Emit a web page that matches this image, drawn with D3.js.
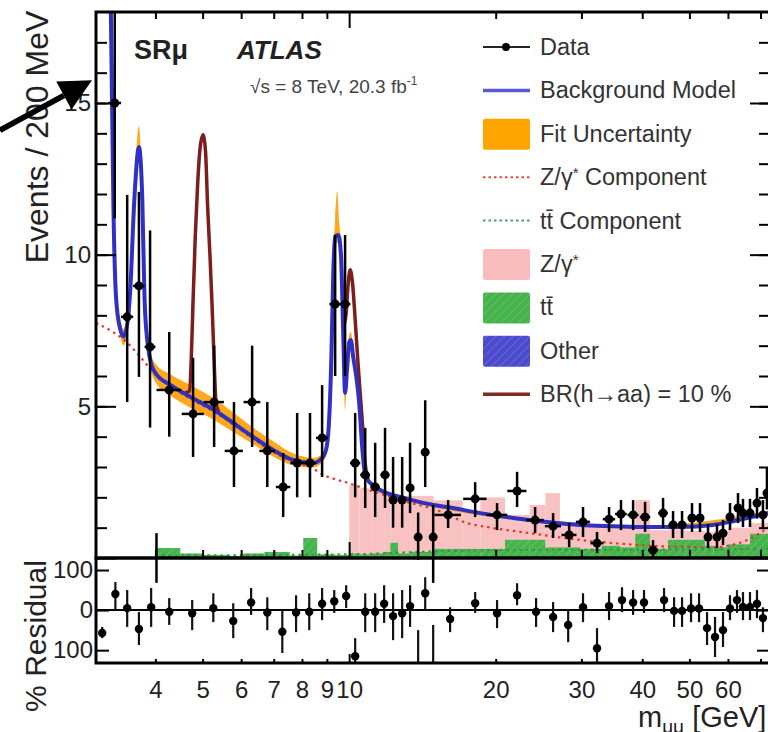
<!DOCTYPE html>
<html>
<head>
<meta charset="utf-8">
<script src="https://cdn.jsdelivr.net/npm/d3@7"></script>
<style>
  body { margin: 0; background: #fff; }
  svg { display: block; font-family: "Liberation Sans", Arial, Helvetica, sans-serif; }
</style>
</head>
<body>
<div id="chart"></div>
<script>
// ---- data (mass in GeV, events per 200 MeV) ----
const dataMass = [3.30, 3.50, 3.70, 3.90, 4.02, 4.27, 4.78, 5.28, 5.80, 6.32, 6.79, 7.32, 7.82, 8.31, 8.80, 9.36, 9.81, 10.29, 10.79, 11.31, 11.85, 12.31, 12.85, 13.34, 13.86, 14.33, 14.88, 15.97, 18.15, 20.13, 22.13, 24.10, 26.24, 28.31, 30.23, 32.30, 34.19, 36.18, 38.31, 40.54, 42.09, 44.14, 46.28, 48.29, 50.62, 52.57, 54.60, 56.97, 58.61, 60.58, 62.92, 64.42, 66.59, 68.83, 70.80, 72.15];
const dataEvents = [15.0, 7.95, 8.97, 6.96, 0, 5.54, 4.75, 5.14, 3.53, 5.14, 3.53, 2.34, 3.13, 3.13, 3.96, 8.37, 8.37, 3.13, 2.74, 2.34, 2.74, 1.91, 1.91, 2.31, 0.69, 3.49, 0.69, 1.42, 1.95, 1.42, 2.21, 1.25, 1.05, 0.76, 1.19, 0.49, 1.28, 1.45, 1.42, 1.35, 0.26, 1.48, 1.09, 1.09, 1.32, 1.32, 0.69, 0.69, 0.82, 1.35, 1.65, 1.48, 1.48, 1.81, 1.42, 2.14];
const dataLow = [11.2, 5.14, 5.97, 4.3, -0.82, 4.0, 3.33, 3.66, 2.34, 3.66, 2.34, 1.35, 2.0, 2.0, 2.67, 6.0, 6.0, 2.0, 1.65, 1.35, 1.65, 1.0, 1.0, 1.48, -0.06, 2.34, -0.82, 0.99, 1.35, 0.92, 1.68, 0.82, 0.66, 0.36, 0.69, 0.16, 0.86, 0.92, 0.92, 0.86, 0.0, 0.99, 0.66, 0.66, 0.86, 0.86, 0.33, 0.33, 0.43, 0.92, 1.15, 1.02, 1.02, 1.3, 0.99, 1.6];
const dataHigh = [19, 11.97, 12.07, 10.8, 0.82, 7.45, 6.6, 7.0, 5.14, 7.0, 5.14, 3.46, 4.78, 4.78, 5.7, 10.65, 10.65, 4.78, 4.29, 3.8, 4.29, 3.33, 3.33, 3.8, 1.5, 5.2, 1.75, 1.91, 2.5, 1.81, 2.84, 1.68, 1.48, 1.15, 1.68, 0.86, 1.68, 1.91, 1.91, 1.85, 0.59, 1.98, 1.55, 1.55, 1.81, 1.81, 1.12, 1.12, 1.25, 1.81, 2.14, 1.95, 1.95, 2.31, 1.91, 3.0];
// bin half widths: [from, to, half width]
const binRanges = [[0, 4, 0.1], [4, 15, 0.25], [15, 100, 1.0]];

// background model curve and its fit uncertainty band
const bkgMass = [3.12, 3.18, 3.24, 3.28, 3.32, 3.38, 3.44, 3.50, 3.55, 3.62, 3.70, 3.76, 3.80, 3.86, 3.92, 4.00, 4.30, 4.72, 5.28, 5.78, 6.35, 6.98, 7.67, 8.43, 8.84, 9.00, 9.10, 9.20, 9.28, 9.36, 9.50, 9.62, 9.72, 9.81, 9.90, 10.0, 10.08, 10.2, 10.36, 10.5, 10.62, 10.75, 10.9, 11.2, 11.58, 12.73, 13.53, 14.88, 15.89, 18.58, 21.72, 25.5, 29.8, 34.85, 40.9, 47.8, 55.9, 60.6, 65.7, 72.5, 73.2];
const bkgEvents = [40, 24, 18, 11.5, 8.6, 7.6, 7.3, 7.7, 8.8, 11.8, 13.55, 11.8, 8.5, 7.0, 6.4, 6.1, 5.7, 5.31, 4.88, 4.45, 3.99, 3.56, 3.23, 3.13, 3.33, 3.7, 4.6, 6.8, 9.5, 10.6, 10.65, 10.0, 7.5, 5.44, 6.2, 7.1, 7.19, 6.6, 5.9, 5.0, 3.8, 2.9, 2.6, 2.4, 2.24, 2.01, 1.9, 1.75, 1.68, 1.48, 1.32, 1.19, 1.09, 1.05, 1.02, 1.02, 1.09, 1.19, 1.32, 1.48, 1.5];
const bandMass = [3.38, 3.44, 3.50, 3.62, 3.70, 3.76, 3.86, 3.92, 4.00, 4.30, 4.72, 5.28, 5.78, 6.35, 6.98, 7.67, 8.43, 8.84, 9.00, 9.10, 9.20, 9.28, 9.36, 9.45, 9.55, 9.62, 9.72, 9.81, 9.90, 10.0, 10.08, 10.2, 10.36, 10.5, 10.62, 10.75, 10.9, 11.58, 14.88, 21.72, 40.9, 72.5];
const bandLow = [7.4, 7.0, 7.5, 11.5, 13.3, 11.5, 6.8, 6.15, 5.8, 5.35, 4.95, 4.55, 4.15, 3.75, 3.35, 3.05, 2.98, 3.18, 3.5, 4.4, 6.5, 9.2, 10.3, 10.4, 10.4, 9.7, 7.2, 4.9, 5.95, 6.85, 6.95, 6.35, 5.65, 4.8, 3.65, 2.8, 2.5, 2.16, 1.68, 1.26, 0.97, 1.4];
const bandHigh = [7.9, 7.55, 8.0, 12.3, 14.25, 12.2, 7.25, 6.7, 6.4, 6.05, 5.7, 5.25, 4.8, 4.3, 3.85, 3.45, 3.3, 3.45, 3.85, 4.8, 7.1, 9.8, 11.2, 12.1, 11.0, 10.3, 7.8, 5.7, 6.45, 7.35, 7.45, 6.85, 6.15, 5.2, 3.95, 3.0, 2.7, 2.32, 1.82, 1.38, 1.07, 1.56];

// components
const zCompMass = [3.02, 3.5, 3.9, 4.0, 4.3, 4.72, 5.28, 5.78, 6.35, 6.98, 7.67, 8.43, 8.72, 10.05, 12.73, 15.9, 17.1, 19.6, 23.5, 30, 35, 45, 55.9, 65.7, 73.2];
const zCompEvents = [7.75, 7.1, 6.25, 6.05, 5.65, 5.25, 4.82, 4.4, 3.93, 3.5, 3.17, 2.95, 2.8, 2.45, 1.91, 1.45, 1.2, 1.0, 0.82, 0.59, 0.49, 0.38, 0.36, 0.59, 1.05];
const ttCompMass = [4.0, 10, 15, 20, 40, 73.2];
const ttCompEvents = [0.08, 0.12, 0.22, 0.26, 0.27, 0.3];

// BR(h->aa) = 10% curve, where it leaves the background model
const sigMassA = [4.60, 4.70, 4.74, 4.78, 4.83, 4.88, 4.94, 5.01, 5.07, 5.12, 5.18, 5.23, 5.28, 5.33, 5.40];
const sigEventsA = [5.44, 5.5, 6.6, 8.5, 10.6, 12.2, 13.5, 13.95, 13.4, 11.6, 9.9, 8.3, 6.5, 5.1, 4.82];
const sigMassB = [9.72, 9.85, 9.95, 10.05, 10.17, 10.29, 10.43, 10.63, 10.79, 10.95];
const sigEventsB = [7.6, 8.0, 9.0, 9.5, 9.0, 7.85, 6.4, 4.6, 3.1, 2.6];

// stacked histograms (bin edges, stack tops)
const histEdges = [4.0, 4.5, 5.0, 5.7, 6.0, 6.7, 7.55, 8.05, 8.6, 9.35, 10, 10.5, 11.15, 11.8, 12.15, 12.6, 13.35, 14.9, 17.1, 18.6, 20.9, 23.5, 25.3, 27.1, 29.8, 33, 36, 38.7, 41.5, 45.2, 49, 53.8, 56, 60, 66.6, 73.2];
const ttTop = [0.33, 0.15, 0.1, 0.05, 0.15, 0.2, 0.08, 0.66, 0.12, 0.1, 0.15, 0.12, 0.15, 0.2, 0.5, 0.15, 0.2, 0.3, 0.3, 0.3, 0.6, 0.6, 0.35, 0.35, 0.3, 0.4, 0.35, 0.8, 0.3, 0.6, 0.6, 0.4, 0.35, 0.45, 0.8];
const zTop = [0, 0, 0, 0, 0, 0, 0, 0, 0, 0, 2.4, 2.3, 2.2, 2.15, 2.1, 2.05, 2.05, 1.9, 1.58, 2.0, 1.42, 1.75, 2.14, 1.19, 1.05, 1.0, 1.05, 1.91, 0.92, 0.95, 0.9, 0.85, 0.9, 1.0, 1.15];

// residual panel (%)
const resMass = [3.11, 3.31, 3.50, 3.70, 3.92, 4.27, 4.76, 5.26, 5.78, 6.29, 6.79, 7.29, 7.78, 8.28, 8.80, 9.32, 9.86, 10.29, 10.79, 11.31, 11.80, 12.31, 12.85, 13.34, 13.86, 14.33, 14.88, 16.12, 18.15, 20.13, 22.13, 24.21, 26.24, 28.18, 30.23, 32.30, 34.19, 36.35, 38.31, 40.34, 44.35, 46.50, 48.29, 50.39, 52.33, 54.35, 56.44, 58.61, 60.58, 62.62, 64.42, 66.59, 68.83, 70.80];
const resVal = [-57, 40, 5, -47, 7, -4, -8, 5, -27, 19, -6, -54, -6, -4, 16, 22, 35, -115, -4, -4, 16, -15, -8, 10, -145, 42, -145, -22, 17, -8, 37, -4, -17, -37, 7, -95, 10, 25, 19, 19, 25, -2, -2, 4, 4, -45, -67, -50, 4, 25, 8, 8, 16, -20];
const resLow = [-70, 0, -42, -87, -42, -37, -50, -30, -70, -12, -50, -107, -55, -50, -25, -7, 5, -137, -55, -55, -32, -75, -70, -42, -160, 0, -160, -55, -7, -45, 12, -42, -55, -80, -30, -137, -25, -5, -12, -7, -5, -42, -42, -30, -30, -87, -117, -92, -25, -7, -25, -25, -20, -55];
const resHigh = [-42, 70, 50, -5, 55, 30, 25, 42, 17, 55, 32, 0, 37, 42, 55, 50, 62, -70, 42, 42, 62, 42, 50, 62, -50, 82, -37, 7, 45, 25, 67, 30, 20, 0, 42, -45, 45, 57, 50, 50, 55, 32, 32, 42, 42, -5, -17, -5, 37, 50, 45, 45, 50, 7];

// ticks
const xMinorTicks = [4, 5, 6, 7, 8, 9, 20, 30, 40, 50, 60, 70];
const xMajorTicks = [10];
const xTickLabels = [4, 5, 6, 7, 8, 9, 10, 20, 30, 40, 50, 60];
const yMajorTicks = [0, 5, 10, 15];
const yMinorTicks = d3.range(1, 18);
const yTickLabels = [5, 10, 15];
const resTicks = [-100, 0, 100];

// ---- layout ----
const width = 768, height = 732;
const plotL = 96, plotR = 770, plotT = 12, plotSplit = 558, plotB = 663;
const xMin = 3.02, xMax = 73.2;
const font = '"Liberation Sans", Arial, Helvetica, sans-serif';

const x = d3.scaleLog().domain([xMin, xMax]).range([plotL, plotR]);
const y = d3.scaleLinear().domain([0, 18]).range([plotSplit, plotT]);
const yRes = d3.scaleLinear().domain([-132, 130]).range([plotB, plotSplit]);

const svg = d3.select("#chart")
    .append("svg")
    .attr("width", width)
    .attr("height", height);

const defs = svg.append("defs");
defs.append("clipPath").attr("id", "clip-main")
    .append("rect").attr("x", plotL).attr("y", plotT).attr("width", plotR - plotL).attr("height", plotSplit - plotT);
defs.append("clipPath").attr("id", "clip-data")
    .append("rect").attr("x", plotL).attr("y", plotT).attr("width", plotR - plotL).attr("height", 600 - plotT);
defs.append("clipPath").attr("id", "clip-res")
    .append("rect").attr("x", plotL).attr("y", plotSplit).attr("width", plotR - plotL).attr("height", plotB - plotSplit);

function hatch(id, bg, fg) {
    const p = defs.append("pattern").attr("id", id)
        .attr("patternUnits", "userSpaceOnUse").attr("width", 6).attr("height", 6)
        .attr("patternTransform", "rotate(45)");
    p.append("rect").attr("width", 6).attr("height", 6).attr("fill", bg);
    p.append("line").attr("x1", 0).attr("y1", 0).attr("x2", 0).attr("y2", 6)
        .attr("stroke", fg).attr("stroke-width", 1.5);
}
hatch("hatch-tt", "#46b34c", "#6cc46f");
hatch("hatch-other", "#4a4acb", "#7070dd");

const halfWidth = m => binRanges.find(r => m >= r[0] && m < r[1])[2];

// ---- main panel ----
const main = svg.append("g").attr("clip-path", "url(#clip-main)");

// stacked histograms: Z/gamma* (pink) on top of ttbar (green)
const bins = ttTop.map((t, i) => ({ lo: histEdges[i], hi: histEdges[i + 1], tt: t, z: zTop[i] }));
main.selectAll(".zbin")
    .data(bins.filter(d => d.z > 0))
    .enter().append("rect")
    .attr("x", d => x(d.lo))
    .attr("width", d => x(d.hi) - x(d.lo))
    .attr("y", d => y(d.z))
    .attr("height", d => y(0) - y(d.z))
    .attr("fill", "#f8c2c2");
main.selectAll(".ttbin")
    .data(bins)
    .enter().append("rect")
    .attr("x", d => x(d.lo))
    .attr("width", d => x(d.hi) - x(d.lo))
    .attr("y", d => y(d.tt))
    .attr("height", d => y(0) - y(d.tt))
    .attr("fill", "url(#hatch-tt)");

// fit uncertainty band
const band = d3.area()
    .x(d => x(d[0])).y0(d => y(d[1])).y1(d => y(d[2]))
    .curve(d3.curveMonotoneX);
main.append("path")
    .datum(bandMass.map((m, i) => [m, bandLow[i], bandHigh[i]]))
    .attr("d", band)
    .attr("fill", "#ffa81c");

const line = d3.line().x(d => x(d[0])).y(d => y(d[1])).curve(d3.curveMonotoneX);
const pairs = (xs, ys) => xs.map((m, i) => [m, ys[i]]);

// components
main.append("path").datum(pairs(zCompMass, zCompEvents))
    .attr("d", line).attr("fill", "none")
    .attr("stroke", "#e2362e").attr("stroke-width", 2.2).attr("stroke-dasharray", "2.5,4");
main.append("path").datum(pairs(ttCompMass, ttCompEvents))
    .attr("d", line).attr("fill", "none")
    .attr("stroke", "#2f9a45").attr("stroke-width", 2.2).attr("stroke-dasharray", "2.5,4");

// signal hypothesis
[pairs(sigMassA, sigEventsA), pairs(sigMassB, sigEventsB)].forEach(seg => {
    main.append("path").datum(seg)
        .attr("d", line).attr("fill", "none")
        .attr("stroke", "#7d1d1d").attr("stroke-width", 3.5);
});

// background model
main.append("path").datum(pairs(bkgMass, bkgEvents))
    .attr("d", line).attr("fill", "none")
    .attr("stroke", "#3030c4").attr("stroke-width", 4);

// data points
const pts = dataMass.map((m, i) => ({ m, v: dataEvents[i], lo: dataLow[i], hi: dataHigh[i], w: halfWidth(m) }));
const dataG = svg.append("g").attr("clip-path", "url(#clip-data)");
dataG.selectAll(".ev")
    .data(pts).enter().append("line")
    .attr("x1", d => x(d.m)).attr("x2", d => x(d.m))
    .attr("y1", d => y(d.lo)).attr("y2", d => y(d.hi))
    .attr("stroke", "#000").attr("stroke-width", 2.5);
dataG.selectAll(".eh")
    .data(pts.filter(d => d.v > 0)).enter().append("line")
    .attr("x1", d => x(d.m - d.w)).attr("x2", d => x(d.m + d.w))
    .attr("y1", d => y(d.v)).attr("y2", d => y(d.v))
    .attr("stroke", "#000").attr("stroke-width", 2.5);
dataG.selectAll(".dot")
    .data(pts.filter(d => d.v > 0)).enter().append("circle")
    .attr("cx", d => x(d.m)).attr("cy", d => y(d.v)).attr("r", 4.5)
    .attr("fill", "#000");

// ---- residual panel ----
const res = svg.append("g").attr("clip-path", "url(#clip-res)");
res.append("line")
    .attr("x1", plotL).attr("x2", plotR).attr("y1", yRes(0)).attr("y2", yRes(0))
    .attr("stroke", "#000").attr("stroke-width", 2);
const rpts = resMass.map((m, i) => ({ m, v: resVal[i], lo: resLow[i], hi: resHigh[i] }));
res.selectAll(".rv")
    .data(rpts).enter().append("line")
    .attr("x1", d => x(d.m)).attr("x2", d => x(d.m))
    .attr("y1", d => yRes(d.lo)).attr("y2", d => yRes(d.hi))
    .attr("stroke", "#111").attr("stroke-width", 2.2);
res.selectAll(".rdot")
    .data(rpts).enter().append("circle")
    .attr("cx", d => x(d.m)).attr("cy", d => yRes(d.v)).attr("r", 4.2)
    .attr("fill", "#000");

// ---- frames and ticks ----
function ticks(g, axis) {
    g.call(axis);
    g.select(".domain").remove();
    g.selectAll("line").attr("stroke", "#000").attr("stroke-width", 2);
    return g;
}
const noLabel = a => a.tickFormat("");
// main panel x ticks (bottom and top)
ticks(svg.append("g").attr("transform", `translate(0,${plotSplit})`), noLabel(d3.axisBottom(x).tickValues(xMinorTicks).tickSize(-8)));
ticks(svg.append("g").attr("transform", `translate(0,${plotSplit})`), noLabel(d3.axisBottom(x).tickValues(xMajorTicks).tickSize(-16)));
ticks(svg.append("g").attr("transform", `translate(0,${plotT})`), noLabel(d3.axisTop(x).tickValues(xMinorTicks).tickSize(-7)));
ticks(svg.append("g").attr("transform", `translate(0,${plotT})`), noLabel(d3.axisTop(x).tickValues(xMajorTicks).tickSize(-16)));
// main panel y ticks (left and right)
ticks(svg.append("g").attr("transform", `translate(${plotL},0)`), noLabel(d3.axisLeft(y).tickValues(yMinorTicks).tickSize(-11)));
ticks(svg.append("g").attr("transform", `translate(${plotL},0)`), noLabel(d3.axisLeft(y).tickValues(yMajorTicks).tickSize(-20)));
ticks(svg.append("g").attr("transform", `translate(${plotR},0)`), noLabel(d3.axisRight(y).tickValues(yMinorTicks).tickSize(-11)));
ticks(svg.append("g").attr("transform", `translate(${plotR},0)`), noLabel(d3.axisRight(y).tickValues(yMajorTicks).tickSize(-20)));
// residual ticks
ticks(svg.append("g").attr("transform", `translate(${plotL},0)`), noLabel(d3.axisLeft(yRes).tickValues(resTicks).tickSize(-13)));
ticks(svg.append("g").attr("transform", `translate(${plotR},0)`), noLabel(d3.axisRight(yRes).tickValues(resTicks).tickSize(-13)));
ticks(svg.append("g").attr("transform", `translate(0,${plotB})`), noLabel(d3.axisBottom(x).tickValues(xMinorTicks).tickSize(-4)));
ticks(svg.append("g").attr("transform", `translate(0,${plotB})`), noLabel(d3.axisBottom(x).tickValues(xMajorTicks).tickSize(-9)));

svg.append("rect")
    .attr("x", plotL).attr("y", plotT).attr("width", plotR - plotL).attr("height", plotSplit - plotT)
    .attr("fill", "none").attr("stroke", "#000").attr("stroke-width", 3);
svg.append("rect")
    .attr("x", plotL).attr("y", plotSplit).attr("width", plotR - plotL).attr("height", plotB - plotSplit)
    .attr("fill", "none").attr("stroke", "#000").attr("stroke-width", 3);

// tick labels
function labels(g, axis, size) {
    g.call(axis);
    g.select(".domain").remove();
    g.selectAll("line").remove();
    g.attr("font-size", size).attr("font-family", font);
    g.selectAll("text").attr("fill", "#222");
    return g;
}
labels(svg.append("g").attr("transform", `translate(0,${681})`),
    d3.axisBottom(x).tickValues(xTickLabels).tickSize(0).tickPadding(0).tickFormat(d3.format("d")), 24);
labels(svg.append("g").attr("transform", `translate(${91},0)`),
    d3.axisLeft(y).tickValues(yTickLabels).tickSize(0).tickPadding(0), 24);
labels(svg.append("g").attr("transform", `translate(${93},0)`),
    d3.axisLeft(yRes).tickValues(resTicks).tickSize(0).tickPadding(0).tickFormat(d => Math.abs(d)), 24);

// axis titles
svg.append("text")
    .attr("transform", `translate(48,${137}) rotate(-90)`)
    .attr("text-anchor", "middle")
    .attr("font-size", 32).attr("fill", "#222")
    .text("Events / 200 MeV");
svg.append("text")
    .attr("transform", `translate(46,${636}) rotate(-90)`)
    .attr("text-anchor", "middle")
    .attr("font-size", 30).attr("fill", "#222")
    .text("% Residual");
const xTitle = svg.append("text")
    .attr("x", 638).attr("y", 727)
    .attr("font-size", 29).attr("fill", "#222");
xTitle.append("tspan").text("m");
xTitle.append("tspan").attr("font-size", 19).attr("dy", 6).text("μμ");
xTitle.append("tspan").attr("dy", -6).text(" [GeV]");

// labels in the plot
svg.append("text").attr("x", 134).attr("y", 59)
    .attr("font-size", 27).attr("font-weight", "bold").attr("fill", "#222")
    .text("SRμ");
svg.append("text").attr("x", 237).attr("y", 59)
    .attr("font-size", 26).attr("font-weight", "bold").attr("font-style", "italic").attr("fill", "#222")
    .text("ATLAS");
const lumi = svg.append("text").attr("x", 250).attr("y", 93)
    .attr("font-size", 19).attr("fill", "#444");
lumi.append("tspan").text("√s = 8 TeV, 20.3 fb");
lumi.append("tspan").attr("font-size", 12).attr("dy", -8).text("-1");

// legend
const legendRows = [
    { label: "Data", kind: "data" },
    { label: "Background Model", kind: "line", color: "#5a5ad6", dash: null },
    { label: "Fit Uncertainty", kind: "box", fill: "#ffa500" },
    { label: "Z/γ", star: true, extra: " Component", kind: "line", color: "#e04848", dash: "2.5,3" },
    { label: "tt̄ Component", kind: "line", color: "#3fa75a", dash: "2.5,3" },
    { label: "Z/γ", star: true, kind: "box", fill: "#f9bcbc" },
    { label: "tt̄", kind: "box", fill: "url(#hatch-tt)" },
    { label: "Other", kind: "box", fill: "url(#hatch-other)" },
    { label: "BR(h→aa) = 10 %", kind: "line", color: "#7d2b2b", dash: null }
];
const legend = svg.append("g").attr("font-size", 23.5).attr("fill", "#333");
legendRows.forEach((r, i) => {
    const cy = 47 + i * 43.4;
    if (r.kind === "data") {
        legend.append("line").attr("x1", 483).attr("x2", 530).attr("y1", cy).attr("y2", cy)
            .attr("stroke", "#222").attr("stroke-width", 2);
        legend.append("circle").attr("cx", 506).attr("cy", cy).attr("r", 4).attr("fill", "#000");
    } else if (r.kind === "line") {
        legend.append("line").attr("x1", 483).attr("x2", 530).attr("y1", cy).attr("y2", cy)
            .attr("stroke", r.color).attr("stroke-width", r.dash ? 2 : 3.5)
            .attr("stroke-dasharray", r.dash);
    } else {
        legend.append("rect").attr("x", 483).attr("y", cy - 15).attr("width", 47).attr("height", 31)
            .attr("rx", 2).attr("fill", r.fill);
    }
    const t = legend.append("text").attr("x", 540).attr("y", cy + 8);
    t.append("tspan").text(r.label);
    if (r.star) t.append("tspan").attr("font-size", 15).attr("dy", -7).text("*");
    if (r.extra) t.append("tspan").attr("dy", 7).text(r.extra);
});

// annotation arrow pointing at the J/psi region
const tipX = x(xMin) - 4, tipY = y(15.75);
const tailX = 0, tailY = tipY + 50;
const ang = Math.atan2(tipY - tailY, tipX - tailX);
const hl = 32, hw = 16;
const bx = tipX - hl * Math.cos(ang), by = tipY - hl * Math.sin(ang);
svg.append("line")
    .attr("x1", tailX).attr("y1", tailY).attr("x2", bx).attr("y2", by)
    .attr("stroke", "#000").attr("stroke-width", 5.5);
svg.append("path")
    .attr("d", `M${tipX},${tipY} L${bx - hw * Math.sin(ang)},${by + hw * Math.cos(ang)} L${bx + hw * Math.sin(ang)},${by - hw * Math.cos(ang)} Z`)
    .attr("fill", "#000");
</script>
</body>
</html>
